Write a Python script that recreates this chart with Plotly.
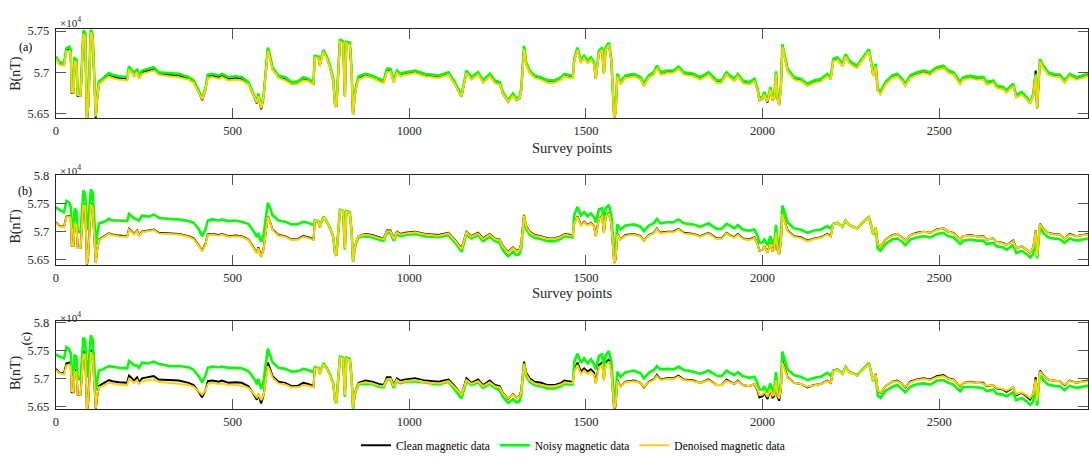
import plotly.graph_objects as go

# ---------------- data (values in units of 1e4 nT, as displayed) ----------------
survey_points = [
    0, 10, 23, 30, 38, 42, 45, 50, 53, 58, 62, 70, 78, 83, 88, 92, 99, 104, 108, 113, 117, 122,
    132, 141, 150, 160, 179, 202, 207, 216, 221, 230, 235, 244, 263, 277, 291, 320, 348, 376, 390, 404,
    414, 423, 430, 442, 461, 470, 489, 508, 526, 545, 555, 564, 569, 573, 581, 588, 592, 600, 606, 613,
    630, 649, 667, 686, 700, 714, 729,
    733, 743, 747, 757, 766, 776, 785, 790, 794, 804, 813, 818, 822, 832, 837, 841, 846, 851, 857,
    876, 895, 914, 928, 937, 947, 956, 965, 975, 989, 1017, 1045, 1083, 1111, 1129, 1148, 1162, 1176, 1195, 1209,
    1228, 1242, 1256, 1265, 1280, 1294, 1303, 1312, 1317, 1325, 1331, 1341, 1355, 1373, 1392, 1411, 1430, 1439, 1458, 1463,
    1467, 1476, 1486, 1495, 1505, 1514, 1523, 1528, 1537, 1546, 1551, 1556, 1565, 1572, 1580, 1584,
    1589, 1598, 1612, 1636, 1655, 1664, 1678, 1692, 1701, 1711, 1730, 1748, 1762, 1777, 1805, 1824, 1847, 1870, 1884, 1898,
    1908, 1920, 1930, 1944, 1962, 1977, 1986, 1991, 2000, 2005, 2014, 2022, 2028, 2033, 2038, 2042, 2047, 2052, 2056, 2063,
    2071, 2089, 2108, 2127, 2146, 2165, 2183, 2193,
    2200, 2212, 2226, 2235, 2245, 2259, 2268, 2277, 2291, 2301, 2307, 2313, 2320,
    2326, 2334, 2348, 2367, 2381, 2395, 2404, 2418, 2437, 2456, 2475, 2493, 2512, 2526, 2540, 2559, 2568, 2587, 2606, 2625,
    2634, 2653, 2662, 2681, 2690, 2700, 2709, 2718, 2733, 2747, 2757, 2766, 2773, 2777, 2785, 2794, 2808, 2822, 2841, 2855,
    2869, 2888, 2907, 2921,
]

clean = [
    5.717, 5.710, 5.709, 5.727, 5.728, 5.725, 5.675, 5.675, 5.715, 5.714, 5.671, 5.671, 5.749, 5.746, 5.640, 5.660, 5.751, 5.743, 5.700, 5.644, 5.668, 5.686,
    5.690, 5.693, 5.697, 5.695, 5.693, 5.692, 5.705, 5.700, 5.696, 5.702, 5.693, 5.700, 5.702, 5.704, 5.698, 5.697, 5.696, 5.692, 5.688, 5.676,
    5.666, 5.678, 5.695, 5.696, 5.694, 5.696, 5.692, 5.693, 5.692, 5.686, 5.676, 5.668, 5.662, 5.672, 5.655, 5.670, 5.690, 5.728, 5.718, 5.704,
    5.694, 5.692, 5.686, 5.687, 5.692, 5.690, 5.686,
    5.719, 5.718, 5.708, 5.726, 5.718, 5.706, 5.690, 5.660, 5.658, 5.738, 5.736, 5.670, 5.736, 5.734, 5.700, 5.648, 5.672, 5.684, 5.692,
    5.696, 5.694, 5.690, 5.688, 5.702, 5.702, 5.688, 5.700, 5.696, 5.698, 5.700, 5.696, 5.694, 5.698, 5.686, 5.670, 5.700, 5.692, 5.698, 5.688,
    5.696, 5.688, 5.686, 5.674, 5.664, 5.672, 5.666, 5.668, 5.678, 5.730, 5.710, 5.700, 5.694, 5.692, 5.688, 5.688, 5.692, 5.696, 5.694, 5.694,
    5.714, 5.728, 5.712, 5.718, 5.712, 5.716, 5.710, 5.692, 5.724, 5.728, 5.698, 5.728, 5.734, 5.714, 5.644, 5.650,
    5.696, 5.686, 5.694, 5.696, 5.692, 5.684, 5.694, 5.698, 5.706, 5.698, 5.700, 5.700, 5.705, 5.698, 5.696, 5.692, 5.698, 5.688, 5.688, 5.698,
    5.694, 5.690, 5.696, 5.688, 5.686, 5.690, 5.678, 5.666, 5.668, 5.674, 5.663, 5.680, 5.666, 5.668, 5.700, 5.668, 5.660, 5.682, 5.732, 5.716,
    5.702, 5.692, 5.690, 5.684, 5.688, 5.690, 5.696, 5.692,
    5.714, 5.716, 5.708, 5.720, 5.712, 5.708, 5.706, 5.712, 5.720, 5.726, 5.712, 5.696, 5.708,
    5.678, 5.674, 5.686, 5.694, 5.696, 5.690, 5.684, 5.694, 5.698, 5.700, 5.698, 5.704, 5.706, 5.700, 5.698, 5.686, 5.692, 5.694, 5.692, 5.692,
    5.686, 5.688, 5.682, 5.680, 5.676, 5.680, 5.684, 5.670, 5.674, 5.668, 5.662, 5.672, 5.702, 5.656, 5.714, 5.706, 5.698, 5.696, 5.695, 5.688,
    5.696, 5.692, 5.694, 5.696,
]

noisy_a = [
    5.719, 5.712, 5.711, 5.729, 5.731, 5.727, 5.677, 5.678, 5.717, 5.716, 5.673, 5.674, 5.751, 5.748, 5.644, 5.663, 5.753, 5.745, 5.703, 5.648, 5.671, 5.689,
    5.692, 5.695, 5.699, 5.697, 5.695, 5.694, 5.707, 5.702, 5.698, 5.704, 5.696, 5.702, 5.704, 5.706, 5.700, 5.699, 5.698, 5.694, 5.690, 5.678,
    5.668, 5.680, 5.697, 5.698, 5.696, 5.698, 5.694, 5.695, 5.694, 5.688, 5.678, 5.670, 5.664, 5.674, 5.657, 5.672, 5.692, 5.730, 5.720, 5.706,
    5.696, 5.694, 5.688, 5.689, 5.694, 5.692, 5.688,
    5.720, 5.719, 5.710, 5.727, 5.720, 5.708, 5.692, 5.662, 5.659, 5.740, 5.737, 5.671, 5.737, 5.736, 5.702, 5.649, 5.674, 5.686, 5.695,
    5.698, 5.696, 5.692, 5.690, 5.704, 5.704, 5.690, 5.702, 5.698, 5.700, 5.702, 5.698, 5.696, 5.700, 5.688, 5.672, 5.702, 5.694, 5.700, 5.690,
    5.698, 5.690, 5.688, 5.676, 5.666, 5.674, 5.668, 5.670, 5.680, 5.732, 5.712, 5.702, 5.696, 5.694, 5.690, 5.690, 5.694, 5.698, 5.696, 5.696,
    5.716, 5.730, 5.714, 5.720, 5.714, 5.718, 5.712, 5.694, 5.726, 5.730, 5.700, 5.730, 5.736, 5.716, 5.646, 5.652,
    5.698, 5.688, 5.696, 5.698, 5.694, 5.686, 5.696, 5.700, 5.708, 5.700, 5.702, 5.702, 5.707, 5.700, 5.698, 5.694, 5.700, 5.690, 5.690, 5.700,
    5.696, 5.692, 5.698, 5.690, 5.688, 5.692, 5.680, 5.668, 5.670, 5.676, 5.665, 5.682, 5.668, 5.670, 5.701, 5.670, 5.662, 5.684, 5.734, 5.718,
    5.704, 5.694, 5.692, 5.686, 5.690, 5.692, 5.698, 5.694,
    5.716, 5.718, 5.710, 5.722, 5.714, 5.710, 5.708, 5.714, 5.722, 5.728, 5.714, 5.698, 5.710,
    5.680, 5.676, 5.688, 5.696, 5.698, 5.692, 5.686, 5.696, 5.700, 5.702, 5.700, 5.706, 5.708, 5.702, 5.700, 5.688, 5.694, 5.696, 5.694, 5.694,
    5.688, 5.690, 5.684, 5.682, 5.678, 5.682, 5.686, 5.672, 5.676, 5.670, 5.663, 5.674, 5.698, 5.657, 5.716, 5.708, 5.700, 5.698, 5.697, 5.690,
    5.698, 5.694, 5.696, 5.698,
]

denoised_a = [
    5.716, 5.709, 5.708, 5.725, 5.726, 5.723, 5.676, 5.675, 5.713, 5.712, 5.672, 5.671, 5.746, 5.743, 5.643, 5.660, 5.749, 5.741, 5.699, 5.646, 5.669, 5.685,
    5.689, 5.692, 5.695, 5.693, 5.691, 5.690, 5.703, 5.699, 5.695, 5.700, 5.692, 5.698, 5.700, 5.702, 5.697, 5.695, 5.694, 5.691, 5.687, 5.676,
    5.667, 5.678, 5.693, 5.694, 5.692, 5.694, 5.690, 5.691, 5.690, 5.685, 5.676, 5.668, 5.663, 5.671, 5.656, 5.670, 5.689, 5.726, 5.716, 5.703,
    5.693, 5.690, 5.685, 5.686, 5.690, 5.689, 5.685,
    5.718, 5.717, 5.707, 5.725, 5.717, 5.705, 5.689, 5.660, 5.658, 5.737, 5.735, 5.670, 5.735, 5.733, 5.699, 5.648, 5.671, 5.683, 5.691,
    5.695, 5.693, 5.689, 5.687, 5.700, 5.701, 5.687, 5.699, 5.695, 5.697, 5.699, 5.695, 5.693, 5.697, 5.685, 5.670, 5.699, 5.691, 5.697, 5.687,
    5.695, 5.687, 5.685, 5.674, 5.664, 5.671, 5.666, 5.668, 5.677, 5.728, 5.709, 5.699, 5.693, 5.691, 5.687, 5.687, 5.691, 5.695, 5.693, 5.693,
    5.713, 5.727, 5.711, 5.717, 5.711, 5.715, 5.709, 5.692, 5.723, 5.727, 5.698, 5.727, 5.733, 5.713, 5.644, 5.650,
    5.695, 5.685, 5.693, 5.695, 5.691, 5.683, 5.693, 5.697, 5.705, 5.697, 5.699, 5.699, 5.704, 5.697, 5.695, 5.691, 5.697, 5.687, 5.687, 5.697,
    5.693, 5.689, 5.695, 5.687, 5.685, 5.689, 5.677, 5.666, 5.668, 5.673, 5.664, 5.679, 5.666, 5.668, 5.698, 5.667, 5.660, 5.681, 5.731, 5.715,
    5.701, 5.691, 5.689, 5.683, 5.687, 5.689, 5.695, 5.691,
    5.713, 5.715, 5.707, 5.719, 5.711, 5.707, 5.705, 5.711, 5.719, 5.725, 5.711, 5.695, 5.707,
    5.677, 5.673, 5.685, 5.693, 5.695, 5.689, 5.683, 5.693, 5.697, 5.699, 5.697, 5.703, 5.705, 5.699, 5.697, 5.685, 5.691, 5.693, 5.691, 5.691,
    5.685, 5.687, 5.681, 5.679, 5.675, 5.679, 5.683, 5.669, 5.673, 5.667, 5.662, 5.671, 5.696, 5.656, 5.713, 5.705, 5.697, 5.695, 5.694, 5.687,
    5.695, 5.691, 5.693, 5.695,
]

noisy_b = [
    5.744, 5.739, 5.735, 5.755, 5.752, 5.744, 5.712, 5.706, 5.741, 5.738, 5.699, 5.700, 5.774, 5.767, 5.703, 5.720, 5.776, 5.770, 5.730, 5.677, 5.695, 5.715,
    5.717, 5.719, 5.723, 5.720, 5.720, 5.719, 5.732, 5.727, 5.724, 5.722, 5.720, 5.729, 5.727, 5.731, 5.725, 5.723, 5.722, 5.719, 5.716, 5.705,
    5.692, 5.703, 5.720, 5.722, 5.720, 5.722, 5.719, 5.720, 5.718, 5.714, 5.706, 5.697, 5.690, 5.698, 5.682, 5.695, 5.715, 5.752, 5.743, 5.730,
    5.720, 5.718, 5.713, 5.714, 5.718, 5.716, 5.712,
    5.720, 5.719, 5.709, 5.727, 5.719, 5.707, 5.691, 5.661, 5.657, 5.739, 5.737, 5.668, 5.737, 5.735, 5.700, 5.646, 5.670, 5.682, 5.690,
    5.692, 5.690, 5.686, 5.684, 5.698, 5.698, 5.684, 5.696, 5.692, 5.694, 5.696, 5.692, 5.690, 5.694, 5.681, 5.664, 5.696, 5.688, 5.694, 5.683,
    5.691, 5.683, 5.680, 5.667, 5.656, 5.664, 5.658, 5.660, 5.671, 5.726, 5.705, 5.695, 5.689, 5.687, 5.683, 5.683, 5.687, 5.692, 5.690, 5.690,
    5.730, 5.744, 5.729, 5.735, 5.728, 5.733, 5.726, 5.717, 5.740, 5.742, 5.715, 5.742, 5.748, 5.730, 5.662, 5.666,
    5.713, 5.704, 5.711, 5.713, 5.709, 5.701, 5.711, 5.715, 5.723, 5.715, 5.717, 5.717, 5.722, 5.715, 5.713, 5.709, 5.715, 5.705, 5.705, 5.714,
    5.711, 5.706, 5.712, 5.704, 5.702, 5.704, 5.692, 5.680, 5.681, 5.686, 5.676, 5.692, 5.679, 5.680, 5.712, 5.681, 5.673, 5.695, 5.747, 5.731,
    5.717, 5.706, 5.704, 5.698, 5.702, 5.704, 5.710, 5.706,
    5.714, 5.716, 5.709, 5.720, 5.712, 5.708, 5.706, 5.712, 5.721, 5.727, 5.712, 5.695, 5.707,
    5.670, 5.666, 5.678, 5.686, 5.688, 5.682, 5.676, 5.686, 5.690, 5.692, 5.690, 5.696, 5.698, 5.692, 5.690, 5.678, 5.684, 5.686, 5.684, 5.684,
    5.678, 5.680, 5.674, 5.672, 5.668, 5.672, 5.676, 5.662, 5.666, 5.660, 5.654, 5.660, 5.695, 5.652, 5.712, 5.698, 5.690, 5.688, 5.687, 5.680,
    5.688, 5.684, 5.686, 5.688,
]

denoised_b = [
    5.716, 5.709, 5.708, 5.726, 5.727, 5.724, 5.675, 5.675, 5.714, 5.713, 5.671, 5.671, 5.748, 5.745, 5.641, 5.660, 5.750, 5.742, 5.700, 5.644, 5.668, 5.685,
    5.689, 5.692, 5.696, 5.694, 5.692, 5.691, 5.704, 5.699, 5.695, 5.701, 5.692, 5.699, 5.701, 5.703, 5.697, 5.696, 5.695, 5.691, 5.687, 5.675,
    5.665, 5.677, 5.694, 5.695, 5.693, 5.695, 5.691, 5.692, 5.691, 5.685, 5.675, 5.667, 5.661, 5.671, 5.654, 5.669, 5.689, 5.727, 5.717, 5.703,
    5.693, 5.691, 5.685, 5.686, 5.691, 5.689, 5.685,
    5.719, 5.718, 5.708, 5.726, 5.718, 5.706, 5.690, 5.660, 5.658, 5.738, 5.736, 5.670, 5.736, 5.734, 5.700, 5.647, 5.672, 5.684, 5.692,
    5.695, 5.693, 5.689, 5.687, 5.701, 5.701, 5.687, 5.699, 5.695, 5.697, 5.699, 5.695, 5.693, 5.697, 5.685, 5.669, 5.699, 5.691, 5.697, 5.687,
    5.695, 5.687, 5.685, 5.673, 5.663, 5.671, 5.665, 5.667, 5.677, 5.729, 5.709, 5.699, 5.693, 5.691, 5.687, 5.687, 5.691, 5.695, 5.693, 5.693,
    5.713, 5.727, 5.711, 5.717, 5.711, 5.715, 5.709, 5.691, 5.723, 5.727, 5.697, 5.727, 5.733, 5.713, 5.644, 5.650,
    5.695, 5.686, 5.693, 5.695, 5.691, 5.684, 5.693, 5.697, 5.705, 5.697, 5.699, 5.699, 5.704, 5.697, 5.695, 5.691, 5.697, 5.687, 5.687, 5.697,
    5.693, 5.689, 5.695, 5.687, 5.685, 5.689, 5.677, 5.666, 5.668, 5.673, 5.663, 5.679, 5.666, 5.668, 5.699, 5.668, 5.660, 5.681, 5.731, 5.715,
    5.701, 5.691, 5.689, 5.683, 5.687, 5.689, 5.695, 5.691,
    5.714, 5.716, 5.708, 5.720, 5.712, 5.708, 5.706, 5.712, 5.720, 5.726, 5.712, 5.696, 5.708,
    5.678, 5.674, 5.686, 5.693, 5.696, 5.690, 5.684, 5.694, 5.697, 5.700, 5.698, 5.703, 5.706, 5.700, 5.697, 5.686, 5.692, 5.693, 5.692, 5.691,
    5.686, 5.688, 5.682, 5.679, 5.676, 5.680, 5.683, 5.670, 5.674, 5.668, 5.662, 5.672, 5.701, 5.656, 5.713, 5.706, 5.698, 5.695, 5.695, 5.688,
    5.695, 5.692, 5.694, 5.695,
]

noisy_c = [
    5.743, 5.739, 5.736, 5.756, 5.752, 5.745, 5.711, 5.705, 5.741, 5.739, 5.698, 5.700, 5.773, 5.768, 5.702, 5.719, 5.777, 5.770, 5.731, 5.678, 5.696, 5.714,
    5.716, 5.719, 5.722, 5.721, 5.719, 5.718, 5.731, 5.727, 5.723, 5.723, 5.719, 5.728, 5.727, 5.730, 5.726, 5.722, 5.722, 5.720, 5.715, 5.704,
    5.693, 5.704, 5.719, 5.721, 5.720, 5.721, 5.719, 5.719, 5.718, 5.713, 5.705, 5.697, 5.689, 5.699, 5.681, 5.694, 5.716, 5.753, 5.742, 5.729,
    5.719, 5.717, 5.712, 5.713, 5.717, 5.715, 5.711,
    5.720, 5.718, 5.709, 5.727, 5.719, 5.707, 5.691, 5.660, 5.656, 5.739, 5.737, 5.667, 5.737, 5.735, 5.700, 5.646, 5.670, 5.681, 5.689,
    5.691, 5.690, 5.685, 5.684, 5.697, 5.698, 5.683, 5.696, 5.691, 5.694, 5.695, 5.692, 5.689, 5.694, 5.680, 5.664, 5.695, 5.688, 5.693, 5.683,
    5.690, 5.683, 5.679, 5.667, 5.656, 5.663, 5.657, 5.659, 5.670, 5.727, 5.704, 5.694, 5.688, 5.686, 5.682, 5.682, 5.686, 5.691, 5.689, 5.689,
    5.729, 5.744, 5.728, 5.736, 5.727, 5.734, 5.725, 5.716, 5.740, 5.743, 5.714, 5.741, 5.749, 5.729, 5.661, 5.665,
    5.712, 5.703, 5.711, 5.714, 5.709, 5.700, 5.710, 5.715, 5.722, 5.716, 5.717, 5.716, 5.721, 5.715, 5.712, 5.708, 5.714, 5.705, 5.704, 5.714,
    5.710, 5.706, 5.711, 5.704, 5.701, 5.703, 5.691, 5.680, 5.680, 5.686, 5.675, 5.691, 5.678, 5.680, 5.711, 5.680, 5.672, 5.694, 5.748, 5.731,
    5.716, 5.706, 5.703, 5.697, 5.701, 5.703, 5.710, 5.705,
    5.713, 5.716, 5.708, 5.720, 5.711, 5.708, 5.705, 5.712, 5.720, 5.727, 5.711, 5.695, 5.706,
    5.669, 5.665, 5.678, 5.685, 5.688, 5.681, 5.675, 5.685, 5.690, 5.691, 5.689, 5.696, 5.697, 5.692, 5.689, 5.677, 5.684, 5.685, 5.684, 5.683,
    5.677, 5.680, 5.673, 5.671, 5.668, 5.671, 5.675, 5.661, 5.665, 5.659, 5.653, 5.659, 5.694, 5.651, 5.711, 5.697, 5.689, 5.687, 5.686, 5.679,
    5.687, 5.683, 5.685, 5.687,
]

denoised_c = [
    5.715, 5.709, 5.707, 5.723, 5.725, 5.722, 5.677, 5.676, 5.712, 5.711, 5.672, 5.671, 5.744, 5.741, 5.642, 5.660, 5.747, 5.740, 5.698, 5.646, 5.670, 5.684,
    5.686, 5.689, 5.692, 5.691, 5.689, 5.688, 5.699, 5.695, 5.692, 5.697, 5.690, 5.695, 5.697, 5.698, 5.694, 5.692, 5.691, 5.688, 5.685, 5.677,
    5.671, 5.678, 5.690, 5.692, 5.690, 5.691, 5.688, 5.688, 5.687, 5.683, 5.676, 5.670, 5.666, 5.672, 5.661, 5.670, 5.687, 5.722, 5.714, 5.701,
    5.691, 5.689, 5.684, 5.684, 5.688, 5.687, 5.684,
    5.718, 5.717, 5.707, 5.725, 5.717, 5.705, 5.689, 5.660, 5.658, 5.737, 5.735, 5.670, 5.735, 5.733, 5.699, 5.648, 5.671, 5.683, 5.690,
    5.693, 5.691, 5.687, 5.686, 5.698, 5.699, 5.686, 5.697, 5.693, 5.695, 5.697, 5.693, 5.691, 5.695, 5.684, 5.671, 5.697, 5.690, 5.695, 5.686,
    5.693, 5.686, 5.684, 5.673, 5.665, 5.671, 5.666, 5.667, 5.676, 5.725, 5.707, 5.697, 5.691, 5.689, 5.686, 5.686, 5.689, 5.693, 5.691, 5.691,
    5.710, 5.724, 5.708, 5.714, 5.708, 5.712, 5.706, 5.690, 5.720, 5.724, 5.696, 5.724, 5.730, 5.711, 5.646, 5.651,
    5.695, 5.686, 5.693, 5.695, 5.692, 5.685, 5.693, 5.697, 5.704, 5.697, 5.699, 5.699, 5.703, 5.697, 5.695, 5.692, 5.697, 5.688, 5.688, 5.696,
    5.693, 5.690, 5.695, 5.688, 5.686, 5.690, 5.680, 5.670, 5.671, 5.676, 5.667, 5.681, 5.669, 5.671, 5.697, 5.670, 5.664, 5.683, 5.728, 5.714,
    5.701, 5.692, 5.690, 5.685, 5.688, 5.690, 5.695, 5.692,
    5.713, 5.715, 5.707, 5.719, 5.711, 5.707, 5.705, 5.711, 5.719, 5.725, 5.711, 5.696, 5.707,
    5.679, 5.675, 5.686, 5.694, 5.695, 5.690, 5.685, 5.693, 5.697, 5.699, 5.697, 5.702, 5.704, 5.699, 5.697, 5.687, 5.692, 5.693, 5.692, 5.691,
    5.687, 5.688, 5.683, 5.681, 5.678, 5.681, 5.684, 5.672, 5.675, 5.670, 5.665, 5.673, 5.698, 5.660, 5.712, 5.705, 5.698, 5.696, 5.695, 5.689,
    5.695, 5.692, 5.694, 5.695,
]

x_ticks = [0, 500, 1000, 1500, 2000, 2500]
y_ticks_a = [5.65, 5.7, 5.75]
y_ticks_bc = [5.65, 5.7, 5.75, 5.8]
panel_labels = ["(a)", "(b)", "(c)"]
series_names = ["Clean magnetic data", "Noisy magnetic data", "Denoised magnetic data"]

# ---------------- layout geometry (pixels) ----------------
W, H = 1089, 461
FONT = "Liberation Serif, Times New Roman, serif"
AX = "#262626"
left_px, right_px = 53, 1088
panels_px = [(24, 115), (173, 265), (323, 413)]          # top, bottom
y_ranges = [[5.644, 5.752], [5.641, 5.8017], [5.645, 5.802]]


def px_x(p):
    return p / W


def px_y(p):
    return 1 - p / H


fig = go.Figure()
colors = ["#000000", "#00FF00", "#FFD200"]
widths = [2.0, 2.6, 2.0]
panel_series = [(noisy_a, denoised_a), (noisy_b, denoised_b), (noisy_c, denoised_c)]

for i, (noisy, den) in enumerate(panel_series):
    xa = "x" if i == 0 else f"x{i + 1}"
    ya = "y" if i == 0 else f"y{i + 1}"
    for j, ys in enumerate([clean, noisy, den]):
        fig.add_trace(go.Scatter(
            x=survey_points, y=ys, mode="lines",
            line=dict(color=colors[j], width=widths[j]),
            name=series_names[j], legendgroup=series_names[j],
            showlegend=(i == 2), xaxis=xa, yaxis=ya,
        ))

common_x = dict(
    range=[0, 2921], tickmode="array", tickvals=x_ticks, ticktext=[str(t) for t in x_ticks],
    ticks="inside", ticklen=10, tickwidth=1, tickcolor="#555555",
    showline=True, linecolor=AX, linewidth=1, mirror="ticks",
    showgrid=False, zeroline=False,
    tickfont=dict(family=FONT, size=12.5, color=AX), ticklabelstandoff=1,
    domain=[px_x(left_px), px_x(right_px)],
)

layout = dict(
    width=W, height=H, margin=dict(l=0, r=0, t=0, b=0),
    paper_bgcolor="white", plot_bgcolor="white",
    showlegend=True,
    legend=dict(orientation="h", x=571.5 / W, xanchor="center", y=px_y(450), yanchor="middle",
                font=dict(family=FONT, size=11.5, color="#000000"), bgcolor="rgba(0,0,0,0)",
                itemwidth=30, tracegroupgap=0),
)

for i, (top, bot) in enumerate(panels_px):
    xkey = "xaxis" if i == 0 else f"xaxis{i + 1}"
    ykey = "yaxis" if i == 0 else f"yaxis{i + 1}"
    xa = dict(common_x)
    xa["anchor"] = "y" if i == 0 else f"y{i + 1}"
    ticks = y_ticks_a if i == 0 else y_ticks_bc
    ya = dict(
        range=y_ranges[i], tickmode="array", tickvals=ticks,
        ticktext=[f"{t:g}" for t in ticks],
        ticks="inside", ticklen=10, tickwidth=1, tickcolor="#555555",
        showline=True, linecolor=AX, linewidth=1, mirror="ticks",
        showgrid=False, zeroline=False,
        tickfont=dict(family=FONT, size=12.5, color=AX), ticklabelstandoff=3,
        domain=[px_y(bot), px_y(top)],
        anchor="x" if i == 0 else f"x{i + 1}",
    )
    layout[xkey] = xa
    layout[ykey] = ya

fig.update_layout(**layout)

# text annotations
exp_y = [16.5, 168, 319]
lab_y = [41.5, 190, 341]
bnt_y = [68.5, 225, 375]
for i in range(3):
    fig.add_annotation(x=px_x(55), y=px_y(exp_y[i]), xref="paper", yref="paper",
                       text="×10<sup>4</sup>", showarrow=False, xanchor="left", yanchor="middle",
                       font=dict(family=FONT, size=11, color=AX))
    fig.add_annotation(x=px_x(22.5), y=px_y(lab_y[i]), xref="paper", yref="paper",
                       text=panel_labels[i], showarrow=False, xanchor="center", yanchor="middle",
                       textangle=(-90 if i == 2 else 0),
                       font=dict(family=FONT, size=12, color="#000000"))
    fig.add_annotation(x=px_x(13), y=px_y(bnt_y[i]), xref="paper", yref="paper",
                       text="B(nT)", showarrow=False, xanchor="center", yanchor="middle",
                       textangle=-90, font=dict(family=FONT, size=14, color=AX))

for yy in [145, 294.5]:
    fig.add_annotation(x=px_x(571), y=px_y(yy), xref="paper", yref="paper",
                       text="Survey points", showarrow=False, xanchor="center", yanchor="middle",
                       font=dict(family=FONT, size=14.5, color=AX))

fig.write_html("out.html",
               config={"displayModeBar": False},
               post_script="document.body.style.margin='0';document.body.style.overflow='hidden';")
